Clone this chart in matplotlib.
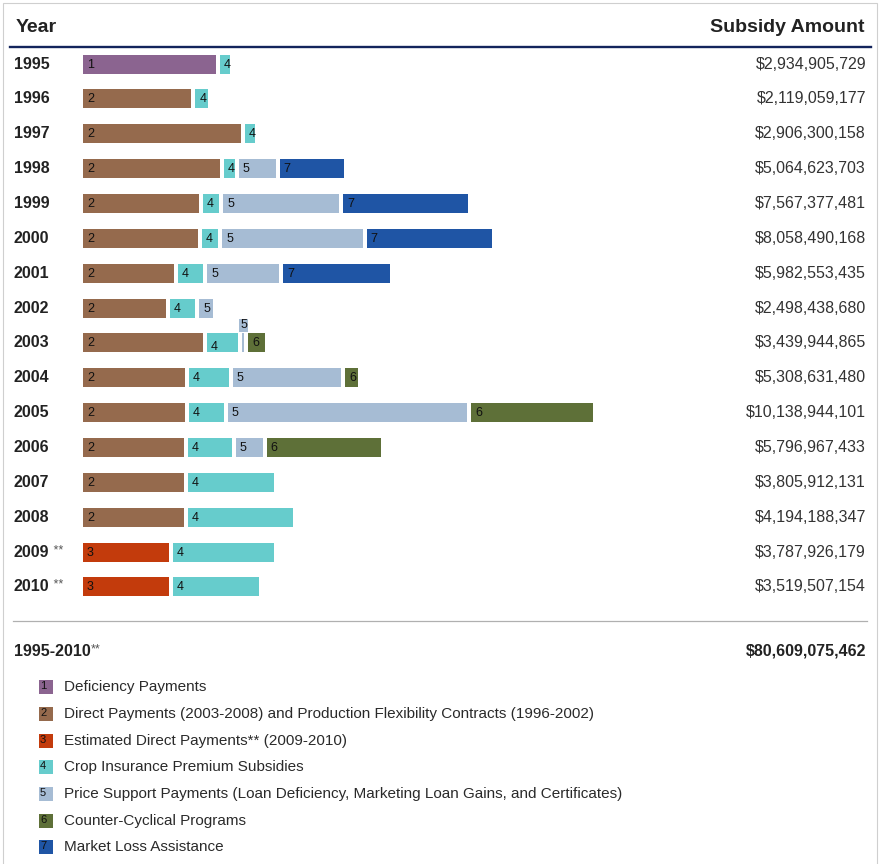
import matplotlib
matplotlib.use("Agg")
import matplotlib.pyplot as plt
from matplotlib.patches import Rectangle
from matplotlib.lines import Line2D
from matplotlib.transforms import blended_transform_factory

plt.rcParams['font.family'] = ['Liberation Sans', 'DejaVu Sans']

# ---------------- data (billions of dollars) ----------------
years = ["1995", "1996", "1997", "1998", "1999", "2000", "2001", "2002",
         "2003", "2004", "2005", "2006", "2007", "2008", "2009", "2010"]
year_marks = ["", "", "", "", "", "", "", "", "", "", "", "", "", "", "**", "**"]

deficiency      = [2.70, 0, 0, 0, 0, 0, 0, 0, 0, 0, 0, 0, 0, 0, 0, 0]
direct_pfc      = [0, 2.20, 3.21, 2.78, 2.36, 2.34, 1.85, 1.69, 2.44, 2.07, 2.07, 2.05, 2.05, 2.05, 0, 0]
est_direct      = [0, 0, 0, 0, 0, 0, 0, 0, 0, 0, 0, 0, 0, 0, 1.75, 1.75]
crop_insurance  = [0.20, 0.26, 0.20, 0.22, 0.33, 0.33, 0.51, 0.51, 0.63, 0.81, 0.71, 0.89, 1.75, 2.13, 2.05, 1.75]
price_support   = [0, 0, 0, 0.75, 2.36, 2.85, 1.46, 0.28, 0.04, 2.20, 4.86, 0.55, 0, 0, 0, 0]
counter_cyc     = [0, 0, 0, 0, 0, 0, 0, 0, 0.35, 0.26, 2.48, 2.32, 0, 0, 0, 0]
market_loss     = [0, 0, 0, 1.32, 2.54, 2.54, 2.17, 0, 0, 0, 0, 0, 0, 0, 0, 0]

amounts = ["$2,934,905,729", "$2,119,059,177", "$2,906,300,158", "$5,064,623,703",
           "$7,567,377,481", "$8,058,490,168", "$5,982,553,435", "$2,498,438,680",
           "$3,439,944,865", "$5,308,631,480", "$10,138,944,101", "$5,796,967,433",
           "$3,805,912,131", "$4,194,188,347", "$3,787,926,179", "$3,519,507,154"]
total_label = "1995-2010"
total_amount = "$80,609,075,462"

series_ids = ["1", "2", "3", "4", "5", "6", "7"]
series_values = [deficiency, direct_pfc, est_direct, crop_insurance,
                 price_support, counter_cyc, market_loss]
series_names = ["Deficiency Payments",
                "Direct Payments (2003-2008) and Production Flexibility Contracts (1996-2002)",
                "Estimated Direct Payments** (2009-2010)",
                "Crop Insurance Premium Subsidies",
                "Price Support Payments (Loan Deficiency, Marketing Loan Gains, and Certificates)",
                "Counter-Cyclical Programs",
                "Market Loss Assistance"]
colors = ["#8b6490", "#956a4d", "#c33b0c", "#66cccc", "#a6bcd4", "#5e7038", "#1f55a5"]

# ---------------- layout ----------------
W, H = 882, 864
PX_PER_B = 49.2
fig = plt.figure(figsize=(W / 100, H / 100), dpi=100)
fig.patch.set_facecolor("white")

def fx(px):
    return px / W

def fy(py):
    return 1 - py / H

ax_left, ax_right = 83, 600
ax_top, ax_bottom = 46.6, 604.4
ax = fig.add_axes([fx(ax_left), fy(ax_bottom), (ax_right - ax_left) / W, (ax_bottom - ax_top) / H])
ax.set_xlim(0, (ax_right - ax_left) / PX_PER_B)
ax.set_ylim(len(years) - 0.5, -0.5)
ax.axis("off")

gap = 4 / PX_PER_B
bar_h = 0.545

for i in range(len(years)):
    left = 0.0
    first = True
    for sid, vals, col in zip(series_ids, series_values, colors):
        v = vals[i]
        if v <= 0:
            continue
        if not first:
            left += gap
        ax.barh(i, v, left=left, height=bar_h, color=col, edgecolor="none")
        if years[i] == "2003" and sid == "5":
            ax.annotate(sid, xy=(left, i), xytext=(-2, 19), textcoords="offset pixels",
                        fontsize=9, color="#111", va="center_baseline", ha="left",
                        bbox=dict(boxstyle="square,pad=0.05", fc=col, ec="none"))
        else:
            dy = -3 if (years[i] == "2003" and sid == "4") else 1
            ax.annotate(sid, xy=(left, i), xytext=(4, dy), textcoords="offset pixels",
                        fontsize=9, color="#111", va="center_baseline", ha="left")
        left += v
        first = False

tr = blended_transform_factory(fig.transFigure, ax.transData)
for i, (y, mk, amt) in enumerate(zip(years, year_marks, amounts)):
    t = ax.text(fx(14), i, y, transform=tr, fontsize=11.5, fontweight="bold",
                color="#222", va="center", ha="left")
    if mk:
        ax.annotate(" " + mk, xy=(1, 0.6), xycoords=t, fontsize=9, color="#555",
                    va="center", ha="left")
    ax.text(fx(866), i, amt, transform=tr, fontsize=11.5, color="#333",
            va="center", ha="right")

# headers
fig.text(fx(16), fy(27), "Year", fontsize=14, fontweight="bold", color="#222",
         va="center", ha="left")
fig.text(fx(865), fy(27), "Subsidy Amount", fontsize=14, fontweight="bold",
         color="#222", va="center", ha="right")
fig.add_artist(Line2D([fx(10), fx(871)], [fy(46.5), fy(46.5)], color="#13245c",
                      lw=1.7, transform=fig.transFigure))

# separator and total
fig.add_artist(Line2D([fx(13), fx(867)], [fy(620.5), fy(620.5)], color="#b0b0b0",
                      lw=0.9, transform=fig.transFigure))
tt = fig.text(fx(14), fy(651), total_label, fontsize=11.5, fontweight="bold",
              color="#222", va="center", ha="left")
plt.annotate("**", xy=(1, 0.6), xycoords=tt, fontsize=9, color="#555",
             va="center", ha="left", annotation_clip=False)
fig.text(fx(866), fy(651), total_amount, fontsize=11.5, fontweight="bold",
         color="#222", va="center", ha="right")

# legend
leg_y = [687, 714, 741, 767, 794, 821, 847]
for yy, sid, name, col in zip(leg_y, series_ids, series_names, colors):
    fig.add_artist(Rectangle((fx(39), fy(yy + 7)), 14 / W, 14 / H, facecolor=col,
                             edgecolor="none", transform=fig.transFigure))
    fig.text(fx(40), fy(yy - 1), sid, fontsize=8, color="#111", va="center", ha="left")
    fig.text(fx(64), fy(yy), name, fontsize=11, color="#2a2a2a", va="center", ha="left")

# outer border
fig.add_artist(Rectangle((fx(3), fy(880)), 874 / W, 877 / H, facecolor="none",
                         edgecolor="#cfcfcf", lw=0.8, transform=fig.transFigure,
                         clip_on=False))

fig.savefig("out.png", dpi=100, facecolor="white")
